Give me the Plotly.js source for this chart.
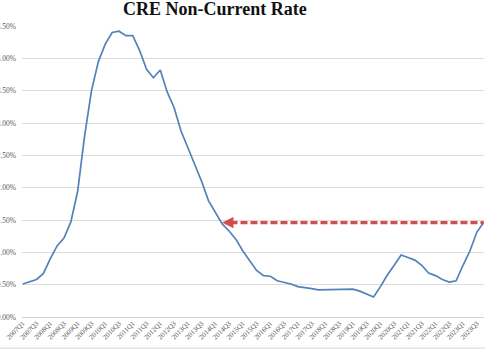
<!DOCTYPE html>
<html>
<head>
<meta charset="utf-8">
<script src="https://cdn.plot.ly/plotly-3.0.1.min.js"></script>
<style>html,body{margin:0;padding:0;background:#fff;}#chart{width:485px;height:350px;}</style>
</head>
<body>
<div id="chart"></div>
<script>
var quarters = ["2007Q1","2007Q2","2007Q3","2007Q4","2008Q1","2008Q2","2008Q3","2008Q4","2009Q1","2009Q2","2009Q3","2009Q4","2010Q1","2010Q2","2010Q3","2010Q4","2011Q1","2011Q2","2011Q3","2011Q4","2012Q1","2012Q2","2012Q3","2012Q4","2013Q1","2013Q2","2013Q3","2013Q4","2014Q1","2014Q2","2014Q3","2014Q4","2015Q1","2015Q2","2015Q3","2015Q4","2016Q1","2016Q2","2016Q3","2016Q4","2017Q1","2017Q2","2017Q3","2017Q4","2018Q1","2018Q2","2018Q3","2018Q4","2019Q1","2019Q2","2019Q3","2019Q4","2020Q1","2020Q2","2020Q3","2020Q4","2021Q1","2021Q2","2021Q3","2021Q4","2022Q1","2022Q2","2022Q3","2022Q4","2023Q1","2023Q2","2023Q3","2023Q4"];
var rate = [0.51,0.54,0.58,0.67,0.90,1.10,1.22,1.47,1.95,2.80,3.50,3.95,4.22,4.40,4.42,4.35,4.35,4.12,3.83,3.70,3.82,3.48,3.24,2.88,2.62,2.36,2.10,1.80,1.62,1.44,1.33,1.20,1.02,0.86,0.72,0.64,0.63,0.56,0.54,0.51,0.47,0.46,0.44,0.42,0.42,0.42,0.43,0.43,0.43,0.40,0.35,0.31,0.47,0.65,0.80,0.96,0.92,0.88,0.80,0.68,0.64,0.58,0.54,0.56,0.80,1.02,1.31,1.46];
var tickLabels = ["2007Q1","2007Q3","2008Q1","2008Q3","2009Q1","2009Q3","2010Q1","2010Q3","2011Q1","2011Q3","2012Q1","2012Q3","2013Q1","2013Q3","2014Q1","2014Q3","2015Q1","2015Q3","2016Q1","2016Q3","2017Q1","2017Q3","2018Q1","2018Q3","2019Q1","2019Q3","2020Q1","2020Q3","2021Q1","2021Q3","2022Q1","2022Q3","2023Q1","2023Q3"];
var arrowFrom = "2014Q2";
var arrowLevel = rate[rate.length - 1];

var serif = "Liberation Serif, Times New Roman, serif";
var red = "#d44c4c";

var trace = {
  x: quarters, y: rate, type: "scatter", mode: "lines",
  line: {color: "#5282b8", width: 1.7},
  hoverinfo: "skip"
};

var layout = {
  width: 485, height: 350,
  margin: {l: 22, r: 1, t: 26, b: 33},
  paper_bgcolor: "#fff", plot_bgcolor: "#fff",
  showlegend: false,
  title: {
    text: "<b>CRE Non-Current Rate</b>",
    font: {family: serif, size: 18, color: "#111"},
    xref: "container", x: 0.443, xanchor: "center",
    yref: "container", y: 0.993, yanchor: "top"
  },
  xaxis: {
    type: "category",
    range: [-0.1, quarters.length - 1 + 0.05],
    tickmode: "array", tickvals: tickLabels, ticktext: tickLabels,
    tickangle: -45,
    tickfont: {family: serif, size: 7, color: "#595959"},
    showgrid: false, zeroline: false, showline: false, ticks: "",
    fixedrange: true
  },
  yaxis: {
    range: [0, 4.5], dtick: 0.5, tick0: 0,
    tickformat: ".2f", ticksuffix: "%",
    tickfont: {family: serif, size: 7.5, color: "#595959"},
    showgrid: true, gridcolor: "#dcdcdc", gridwidth: 1,
    zeroline: true, zerolinecolor: "#d0d0d0", zerolinewidth: 1,
    showline: false, ticks: "", ticklabelstandoff: 5,
    fixedrange: true
  },
  shapes: [
    {type: "line", xref: "x", yref: "y", x0: quarters.indexOf(arrowFrom) + 1.2, x1: quarters.length - 1, y0: arrowLevel, y1: arrowLevel,
     line: {color: red, width: 3.2, dash: "7px,3px"}},
    {type: "line", xref: "paper", yref: "paper", x0: -0.05, x1: 1.05, y0: -0.107, y1: -0.107,
     line: {color: "#d9d9d9", width: 1}}
  ],
  annotations: [
    {x: quarters.indexOf(arrowFrom), y: arrowLevel, xref: "x", yref: "y",
     ax: 9, ay: 0, showarrow: true, arrowhead: 2, arrowsize: 0.7, arrowwidth: 3.2,
     arrowcolor: red, text: ""}
  ]
};

Plotly.newPlot("chart", [trace], layout, {displayModeBar: false, staticPlot: true});
</script>
</body>
</html>
